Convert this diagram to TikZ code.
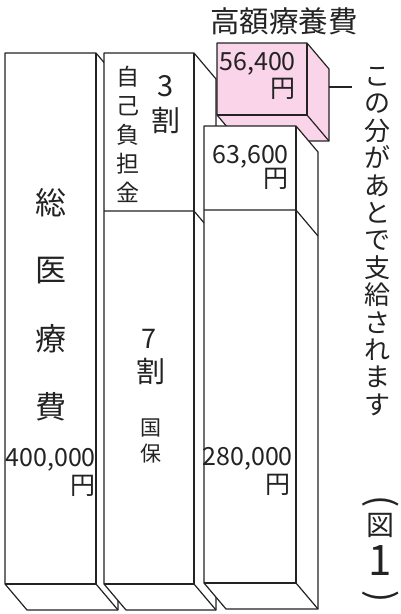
\documentclass[tikz,border=0pt]{standalone}
\usepackage{fontspec}
\setmainfont{Noto Sans CJK JP}
\definecolor{pinkfill}{RGB}{250,212,232}
\definecolor{ink}{RGB}{35,35,35}
\tikzset{
  edge/.style={draw=ink, line width=1.2pt, line join=round},
  lbl/.style={inner sep=0pt, text=ink},
}
\newcommand{\prismbox}[5]{%
  \filldraw[edge, fill=#5] (#1,#2) -- (#3,#2) -- ({#3+22},{#2+26}) -- ({#3+22},{#4+26}) -- ({#1+22},{#4+26}) -- (#1,#4) -- cycle;
  \draw[edge] (#3,#2) -- (#3,#4) -- (#1,#4);
  \draw[edge] (#3,#4) -- ({#3+22},{#4+26});
}
\begin{document}
\begin{tikzpicture}[x=1pt,y=-1pt]
\useasboundingbox (0,0) rectangle (400,614);
% boxes
\prismbox{5}{53}{96}{584}{white}
\prismbox{104}{53}{194}{584}{white}
\draw[edge] (104,211) -- (194,211) -- (216,237);
\prismbox{217}{43}{307}{115}{pinkfill}
\prismbox{204}{126}{296}{583}{white}
\draw[edge] (204,210) -- (296,210) -- (318,236);
% title
\node[lbl, font=\fontsize{29.5}{30}\selectfont] (title) at (284,21) {高額療養費};
% pink box
\node[lbl, anchor=east, font=\fontsize{25}{26}\selectfont] (n56) at (296,64) {56,400};
\node[lbl, anchor=east, font=\fontsize{25}{26}\selectfont] (y56) at (296,89) {円};
% box 3
\node[lbl, anchor=east, font=\fontsize{25}{26}\selectfont] (n63) at (289,157) {63,600};
\node[lbl, anchor=east, font=\fontsize{25}{26}\selectfont] (y63) at (289,179) {円};
\node[lbl, anchor=east, font=\fontsize{25}{26}\selectfont] (n28) at (293,459) {280,000};
\node[lbl, anchor=east, font=\fontsize{25}{26}\selectfont] (y28) at (291,485) {円};
% box 1
\node[lbl, font=\fontsize{31}{32}\selectfont] (c1) at (51,203) {総};
\node[lbl, font=\fontsize{31}{32}\selectfont] (c2) at (51,271) {医};
\node[lbl, font=\fontsize{31}{32}\selectfont] (c3) at (51,339) {療};
\node[lbl, font=\fontsize{31}{32}\selectfont] (c4) at (51,407) {費};
\node[lbl, anchor=east, font=\fontsize{25}{26}\selectfont] (n40) at (96,460) {400,000};
\node[lbl, anchor=east, font=\fontsize{25}{26}\selectfont] (y40) at (96,486) {円};
% box 2
\node[lbl, align=center, font=\fontsize{23}{29}\selectfont] (jiko) at (128,134) {自\\己\\負\\担\\金};
\node[lbl, font=\fontsize{29}{30}\selectfont] (three) at (166,86) {3};
\node[lbl, font=\fontsize{29}{30}\selectfont] (wari3) at (166,120) {割};
\node[lbl, font=\fontsize{27}{28}\selectfont] (seven) at (149,339) {7};
\node[lbl, font=\fontsize{29}{30}\selectfont] (wari7) at (151,371) {割};
\node[lbl, align=center, font=\fontsize{21}{26}\selectfont] (koku) at (151,441) {国\\保};
% connector and side text
\coordinate (pinkside) at (329,87);
\coordinate (lineend) at (352,87);
\draw[edge] (pinkside) -- (lineend);
\node[lbl, align=center, font=\fontsize{26}{27.4}\selectfont] (note) at (377,241.5) {こ\\の\\分\\が\\あ\\と\\で\\支\\給\\さ\\れ\\ま\\す};
% figure number
\node[lbl, rotate=-90, font=\fontsize{36}{36}\selectfont] (pl) at (381,502) {(};
\node[lbl, font=\fontsize{28}{28}\selectfont] (zu) at (380,525) {図};
\node[lbl, font=\fontsize{42}{42}\selectfont] (one) at (380,561) {1};
\node[lbl, rotate=-90, font=\fontsize{36}{36}\selectfont] (pr) at (381,597) {)};
\end{tikzpicture}
\end{document}
